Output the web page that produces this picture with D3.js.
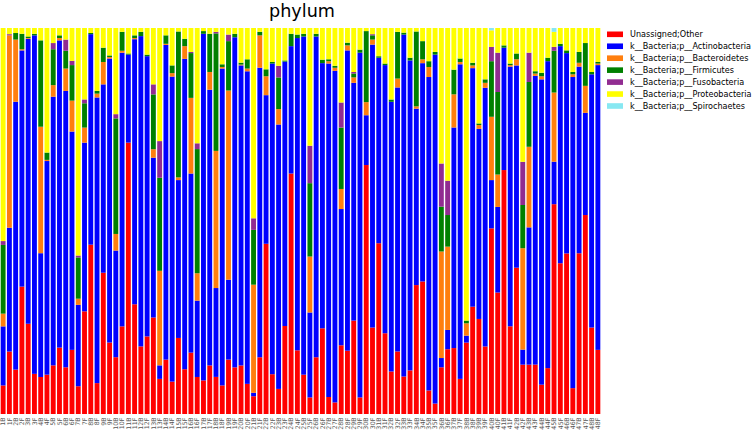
<!DOCTYPE html>
<html><head><meta charset="utf-8">
<script src="https://cdn.jsdelivr.net/npm/d3@7/dist/d3.min.js"></script>
<style>body{margin:0;background:#fff}svg{display:block}</style>
</head><body>
<svg id="chart" width="753" height="434"></svg>
<script>
const samples = [];
const sampleIds = d3.range(1, 49);
sampleIds.forEach(i => { samples.push(i + "B"); samples.push(i + "F"); });

const phyla = ["Unassigned;Other","k__Bacteria;p__Actinobacteria","k__Bacteria;p__Bacteroidetes","k__Bacteria;p__Firmicutes","k__Bacteria;p__Fusobacteria","k__Bacteria;p__Proteobacteria","k__Bacteria;p__Spirochaetes"];
const colors = ["#ff0000","#0000ff","#ff7f0e","#008000","#912c91","#ffff00","#87e8f2"];

const unassigned = [7.4,16.2,11.5,33.0,23.4,10.4,9.6,10.2,12.6,17.2,12.1,16.6,7.2,26.6,44.0,8.0,36.6,18.5,14.7,22.7,70.3,28.4,17.5,20.1,
25.0,9.1,14.1,8.4,19.7,11.6,15.9,9.6,8.7,12.6,9.6,7.4,14.1,12.1,12.6,7.8,4.6,14.7,44.1,10.3,6.5,22.8,62.3,16.5,
10.2,4.3,14.7,22.2,4.4,3.0,17.8,16.4,24.2,4.3,64.5,22.4,44.2,20.9,11.0,16.2,9.7,11.3,33.4,34.3,6.1,2.7,12.1,16.8,
17.1,9.1,18.5,27.8,24.6,17.5,48.1,31.5,63.2,22.7,37.9,12.8,12.8,12.8,7.6,11.9,54.3,39.1,41.6,6.7,41.6,51.6,22.4,16.6];
const actinobacteria = [15.3,32.1,69.4,61.2,73.9,87.7,32.1,55.4,69.6,79.6,71.6,56.5,21.1,43.7,54.7,74.0,48.8,73.5,27.6,70.9,22.8,68.6,80.3,72.6,
41.4,3.5,81.6,79.1,40.9,80.4,46.4,19.8,89.8,71.5,23.0,82.1,20.7,85.6,77.9,80.9,0.9,75.0,38.5,80.4,68.5,68.5,33.0,80.9,
87.7,22.0,83.1,68.7,86.4,85.9,35.3,77.8,61.6,89.3,12.9,73.3,48.0,69.4,69.8,68.4,88.5,80.3,45.7,56.5,81.2,90.4,2.4,5.0,
57.2,81.5,1.8,61.8,49.2,67.0,12.5,22.2,31.7,67.2,52.4,3.9,35.6,74.8,79.1,79.6,11.0,56.3,51.9,80.6,48.3,26.5,65.6,73.7];
const bacteroidetes = [3.3,49.9,16.1,0.3,0.2,0,32.8,0.3,3.0,0.6,5.8,8.0,1.6,3.9,0,1.0,5.8,0.4,4.3,0.5,0,0.3,0,0,
2.2,24.5,0.3,0.9,0.7,3.3,19.6,7.1,0,4.6,35.5,0.4,49.0,0,0.2,0.7,28.0,8.4,4.9,0,4.0,0,0,0,
0,14.5,0,0,0.6,0.8,5.2,1.3,1.4,0,3.4,1.3,0,0,0,2.3,0,0,0.6,1.0,2.6,0,27.6,21.6,
8.6,0.6,3.2,0.7,1.0,1.3,16.4,8.4,0,0.4,1.6,26.3,20.9,0.6,0.8,0,17.9,0,0,0.7,1.0,7.0,0,0.4];
const firmicutes = [17.8,0,1.7,4.0,0.4,0.4,22.4,1.9,9.3,0.7,4.6,9.2,10.7,6.3,0.3,0.7,3.7,0.4,29.9,4.9,0.3,0.7,1.1,0.4,
14.2,24.1,2.2,2.0,37.8,1.9,11.6,32.2,0.7,9.9,30.4,0.7,12.8,0.9,0.5,2.4,14.2,0.9,1.8,0.4,8.2,0.3,3.2,0.9,
0.7,19.0,0.7,0.9,0.5,0.5,15.9,0.7,1.0,0.8,18.4,1.1,0.4,0.4,0.6,12.1,0.5,0.7,19.4,4.7,1.5,0.7,11.6,8.2,
6.4,0.9,0.7,0.7,0.4,0.9,14.4,21.4,0.6,0.4,1.5,11.2,16.8,0.6,0.9,0.9,10.8,0.6,0.7,0.6,2.8,11.1,0.6,0.4];
const fusobacteria = [1.0,0.3,0,0,0,0,0,0,1.6,0,2.9,1.1,0.5,1.0,0,0,0,0,1.1,0,0,0,0,0,
2.6,9.5,0,0,0,0,0.3,1.5,0,0,0.4,0,1.7,0,0,0,3.0,0,0,0,3.0,0,0,0,
0,9.7,0,0,0,0,6.5,0,0.4,0,0,0.3,0,0,0,0,0,0,0,0,0,0,11.2,8.9,
0,0,0,0,0,0,3.7,10.2,0,0,0,11.2,7.6,0,0,0,1.0,0,0,0,0,0,0,0];
const proteobacteria = [55.2,1.6,1.3,1.5,2.2,1.5,3.2,32.3,3.9,1.9,3.0,8.5,59.0,18.5,1.3,16.3,5.1,7.1,22.3,1.0,6.6,1.9,1.0,6.9,
14.6,29.3,1.9,9.7,0.9,2.8,6.2,29.9,0.8,1.5,1.0,9.4,1.7,1.5,9.0,8.1,49.3,1.0,10.7,8.8,9.8,8.4,1.5,1.7,
1.5,30.5,1.5,8.2,8.1,9.8,19.3,3.8,11.4,5.6,0.8,1.6,7.3,9.2,18.5,1.0,1.2,7.7,0.9,3.4,8.6,6.2,35.1,39.6,
10.8,7.9,75.8,9.0,24.7,13.3,4.3,6.4,4.5,9.2,6.6,34.7,6.4,11.2,11.6,7.7,3.9,4.1,5.8,11.4,6.2,3.9,11.4,8.8];
const spirochaetes = new Array(96).fill(0);
spirochaetes[78] = 0.6; spirochaetes[88] = 1.0;

const series = [unassigned, actinobacteria, bacteroidetes, firmicutes, fusobacteria, proteobacteria, spirochaetes];
const rows = samples.map((s, i) => { const r = {sample: s}; phyla.forEach((p, k) => r[p] = series[k][i]); return r; });

const svg = d3.select("#chart");
const plot = {left: 0, right: 601, top: 28, bottom: 414};

const x = d3.scaleBand().domain(samples).range([plot.left, plot.right]).paddingInner(0.22).paddingOuter(0.11);
const y = d3.scaleLinear().domain([0, 1]).range([plot.bottom, plot.top]);

const stacked = d3.stack().keys(phyla).offset(d3.stackOffsetExpand)(rows);

svg.append("g").selectAll("g").data(stacked).join("g")
  .attr("fill", (d, i) => colors[i])
  .selectAll("rect").data(d => d).join("rect")
  .attr("x", d => x(d.data.sample))
  .attr("width", x.bandwidth())
  .attr("y", d => y(d[1]))
  .attr("height", d => Math.max(0, y(d[0]) - y(d[1])));

const xAxis = d3.axisBottom(x).tickSize(0).tickPadding(0);
const gx = svg.append("g").attr("transform", `translate(0,${plot.bottom})`).call(xAxis);
gx.select(".domain").remove();
gx.selectAll("text")
  .attr("font-family", "DejaVu Sans").attr("font-size", "6.3px").attr("fill", "#555")
  .attr("transform", "rotate(-90)")
  .attr("text-anchor", "end").attr("dy", "0.35em").attr("x", -3.5).attr("y", 0);

svg.append("text").attr("x", 302).attr("y", 17).attr("text-anchor", "middle")
  .attr("font-family", "DejaVu Sans").attr("font-size", "17.6px").attr("fill", "#000").text("phylum");

const leg = svg.append("g").attr("transform", "translate(607,34.3)");
phyla.forEach((p, i) => {
  const g = leg.append("g").attr("transform", `translate(0,${i * 11.95})`);
  g.append("rect").attr("x", 0).attr("y", -2.8).attr("width", 16).attr("height", 5.6).attr("fill", colors[i]);
  g.append("text").attr("x", 23).attr("y", 2.9).attr("font-family", "DejaVu Sans").attr("font-size", "8.1px").attr("fill", "#000").text(p);
});
</script>
</body></html>
